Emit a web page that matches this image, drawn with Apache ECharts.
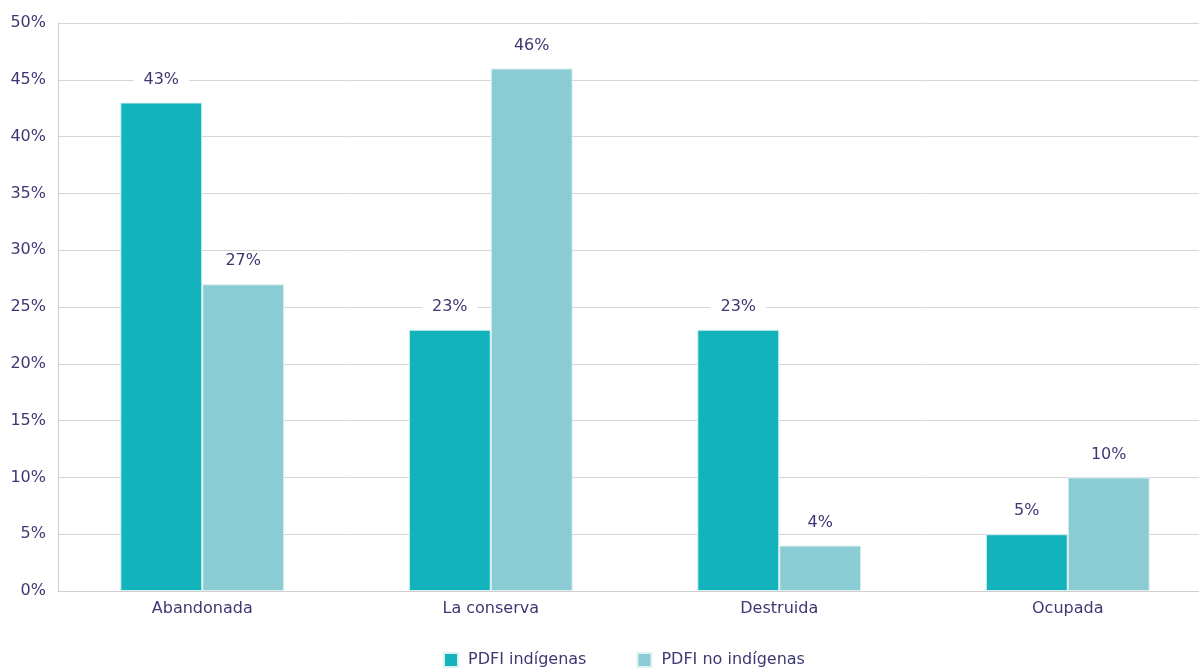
<!DOCTYPE html>
<html>
<head>
<meta charset="utf-8">
<script src="https://cdn.jsdelivr.net/npm/echarts@6/dist/echarts.min.js"></script>
<style>
  html, body { margin: 0; padding: 0; background: #fff; overflow: hidden; }
  #chart { width: 1212px; height: 670px; }
</style>
</head>
<body>
<div id="chart"></div>
<script>
  var categories = ['Abandonada', 'La conserva', 'Destruida', 'Ocupada']
  var indigenas = [43, 23, 23, 5]
  var noIndigenas = [27, 46, 4, 10]
  var yTicks = [0, 5, 10, 15, 20, 25, 30, 35, 40, 45, 50]

  var textColor = '#3d3874'
  var fontFamily = '"DejaVu Sans", sans-serif'

  var labelOption = {
    show: true,
    position: 'top',
    distance: 13,
    formatter: '{c}%',
    fontSize: 16,
    color: textColor,
    fontFamily: fontFamily,
    backgroundColor: '#fff',
    padding: [2, 10]
  }

  // plot runs past the right edge of the window, like the original
  var chart = echarts.init(document.getElementById('chart'))
  chart.setOption({
    animation: false,
    textStyle: { fontFamily: fontFamily },
    grid: {
      left: 58,
      right: 0,
      top: 23,
      bottom: 79
    },
    legend: {
      bottom: 2,
      left: 443,
      padding: 0,
      itemWidth: 14,
      itemHeight: 14,
      itemGap: 50,
      icon: 'rect',
      textStyle: { fontSize: 16, color: textColor, fontFamily: fontFamily, padding: [0, 0, 0, 5] },
      data: ['PDFI indígenas', 'PDFI no indígenas']
    },
    xAxis: {
      type: 'category',
      data: categories,
      axisTick: { show: false },
      axisLine: { lineStyle: { color: '#cfcfcf' } },
      axisLabel: { fontSize: 16, color: textColor, margin: 10 }
    },
    yAxis: {
      type: 'value',
      min: yTicks[0],
      max: yTicks[yTicks.length - 1],
      interval: 5,
      axisLine: { show: true, lineStyle: { color: '#cfcfcf' } },
      axisTick: { show: false },
      splitLine: { lineStyle: { color: '#d6d6d6' } },
      axisLabel: {
        fontSize: 16,
        color: textColor,
        margin: 12,
        formatter: '{value}%'
      }
    },
    series: [{
      name: 'PDFI indígenas',
      type: 'bar',
      data: indigenas,
      barWidth: '28.4%',
      barGap: '0%',
      itemStyle: { color: '#13b3bc', borderColor: '#d8f0f2', borderWidth: 1 },
      label: labelOption
    },
    {
      name: 'PDFI no indígenas',
      type: 'bar',
      data: noIndigenas,
      barWidth: '28.4%',
      itemStyle: { color: '#8bccd4', borderColor: '#dff1f3', borderWidth: 1 },
      label: labelOption
    }]
  })
</script>
</body>
</html>
